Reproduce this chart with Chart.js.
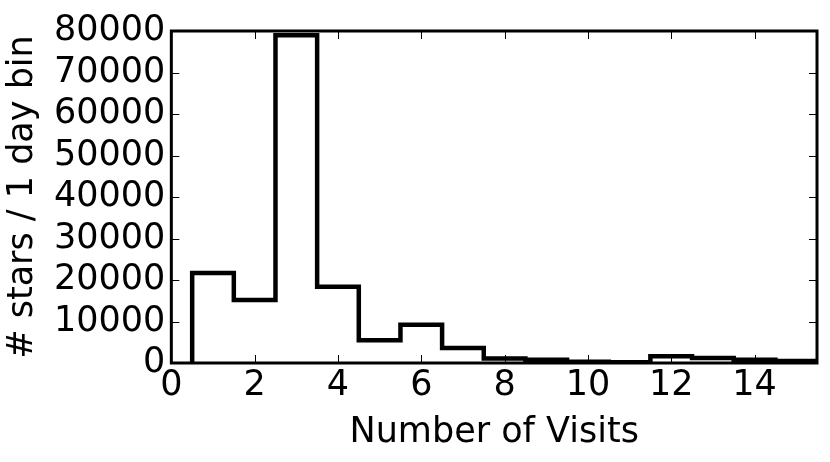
<!DOCTYPE html>
<html>
<head>
<meta charset="utf-8">
<script src="https://cdn.jsdelivr.net/npm/chart.js@4"></script>
<style>
  html, body { margin: 0; padding: 0; background: #fff; }
  #wrap { width: 830px; height: 462px; }
</style>
</head>
<body>
<div id="wrap"><canvas id="histChart" width="830" height="462"></canvas></div>
<script>
// bin centres (number of visits) and counts per bin
const visits = [1, 2, 3, 4, 5, 6, 7, 8, 9, 10, 11, 12, 13, 14, 15];
const counts = [21700, 15200, 79000, 18400, 5500, 9200, 3600, 1100, 800, 300, 200, 1600, 1200, 800, 500];
const xTicks = [0, 2, 4, 6, 8, 10, 12, 14];
const yTicks = [0, 10000, 20000, 30000, 40000, 50000, 60000, 70000, 80000];

// step outline: point at each bin's right edge; Chart.js 'after' rises at the left edge first
const outline = [{ x: visits[0] - 0.5, y: 0 }];
visits.forEach((v, i) => outline.push({ x: v + 0.5, y: counts[i] }));
outline.push({ x: visits[visits.length - 1] + 0.5, y: 0 });

const font = { family: 'DejaVu Sans', size: 35 };

// frame and inward ticks on all four sides, like the matplotlib original
const framePlugin = {
  id: 'frame',
  afterDraw(chart) {
    const { ctx, chartArea: a, scales } = chart;
    ctx.save();
    ctx.strokeStyle = '#000';
    ctx.lineWidth = 1;
    const len = 8;
    ctx.beginPath();
    xTicks.forEach(t => {
      const px = Math.round(scales.x.getPixelForValue(t)) + 0.5;
      ctx.moveTo(px, a.bottom); ctx.lineTo(px, a.bottom - len);
      ctx.moveTo(px, a.top); ctx.lineTo(px, a.top + len);
    });
    yTicks.forEach(t => {
      const py = Math.round(scales.y.getPixelForValue(t)) + 0.5;
      ctx.moveTo(a.left, py); ctx.lineTo(a.left + len, py);
      ctx.moveTo(a.right, py); ctx.lineTo(a.right - len, py);
    });
    ctx.stroke();
    ctx.lineWidth = 3;
    ctx.strokeRect(a.left, a.top, a.right - a.left, a.bottom - a.top);
    ctx.restore();
  }
};

new Chart(document.getElementById('histChart').getContext('2d'), {
  type: 'line',
  data: {
    datasets: [{
      data: outline,
      stepped: 'after',
      borderColor: '#000',
      borderWidth: 4.5,
      pointRadius: 0,
      fill: false,
    }],
  },
  options: {
    responsive: false,
    animation: false,
    layout: { padding: { left: 2, right: 13, top: 31, bottom: 8 } },
    plugins: { legend: { display: false }, tooltip: { enabled: false } },
    scales: {
      x: {
        type: 'linear',
        min: 0,
        max: 15.5,
        afterBuildTicks: s => { s.ticks = xTicks.map(v => ({ value: v })); },
        grid: { display: false, drawTicks: false },
        border: { display: false },
        ticks: { color: '#000', font, padding: 2, maxRotation: 0, autoSkip: false, callback: v => String(v) },
        title: { display: true, text: 'Number of Visits', color: '#000', font, padding: { top: 3, bottom: 0 } },
      },
      y: {
        min: 0,
        max: 80000,
        afterBuildTicks: s => { s.ticks = yTicks.map(v => ({ value: v })); },
        grid: { display: false, drawTicks: false },
        border: { display: false },
        ticks: { color: '#000', font, padding: 6, autoSkip: false, callback: v => String(v) },
        title: { display: true, text: '# stars / 1 day bin', color: '#000', font, padding: { top: 0, bottom: 4 } },
      },
    },
  },
  plugins: [framePlugin],
});
</script>
</body>
</html>
